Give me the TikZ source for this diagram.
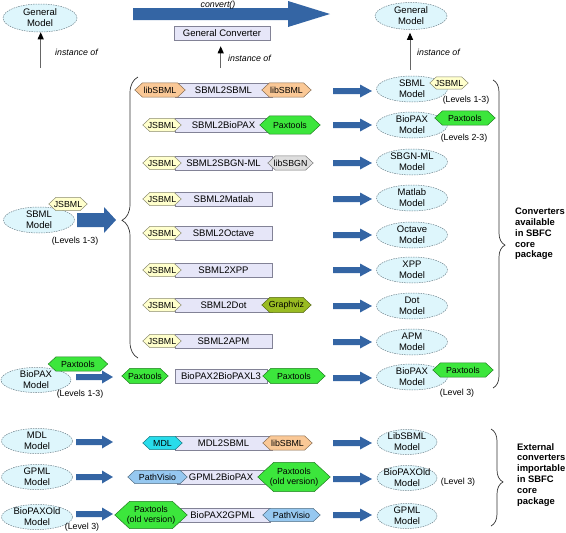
\documentclass[tikz,border=0pt]{standalone}
\usepackage{fontspec}
\setmainfont{Liberation Sans}
\usetikzlibrary{shapes.geometric,arrows.meta,decorations.pathreplacing,calc}
\definecolor{arrblue}{RGB}{52,101,164}
\definecolor{ellfill}{RGB}{222,246,252}
\definecolor{elldraw}{RGB}{110,130,140}
\definecolor{boxfill}{RGB}{230,230,248}
\definecolor{boxdraw}{RGB}{130,130,150}
\definecolor{jsbml}{RGB}{255,255,204}
\definecolor{libsbml}{RGB}{250,200,150}
\definecolor{paxgreen}{RGB}{60,230,60}
\definecolor{sbgngray}{RGB}{222,222,222}
\definecolor{graphviz}{RGB}{153,187,34}
\definecolor{mdlcyan}{RGB}{40,220,235}
\definecolor{pvblue}{RGB}{150,200,240}
\newcommand\fmid{\fontsize{9.5}{11}\selectfont}
\newcommand\fsml{\fontsize{8.8}{10}\selectfont}
\newcommand\fbld{\bfseries\fontsize{9.4}{10.8}\selectfont}
% hexagon library tag: name, cx, cy, width, height, fill, text
\newcommand\hexn[7]{%
  \node[hexbox, minimum width=#4pt, minimum height=#5pt] (#1) at (#2,#3) {};
  \filldraw[hexline, fill=#6, draw=#6!55!black] (#1.west) -- ([xshift={0.55*#5pt}]#1.north west) -- ([xshift={-0.55*#5pt}]#1.north east) -- (#1.east) -- ([xshift={-0.55*#5pt}]#1.south east) -- ([xshift={0.55*#5pt}]#1.south west) -- cycle;
  \node[hextext] (#1t) at (#1.center) {#7};}
% block arrow: start coord, end coord, shaft half height, head half height, head length
\newcommand\barrow[5]{%
  \fill[arrblue] ($(#1)+(0,-#3)$) -- ($(#2)+(-#5,-#3)$) -- ($(#2)+(-#5,-#4)$) -- (#2) -- ($(#2)+(-#5,#4)$) -- ($(#2)+(-#5,#3)$) -- ($(#1)+(0,#3)$) -- cycle;}
\begin{document}
\begin{tikzpicture}[x=1pt,y=-1pt,
  ell/.style={ellipse, draw=elldraw, dash pattern=on 1.5pt off 1pt, line width=0.5pt, fill=ellfill,
    minimum width=71pt, minimum height=26pt, inner xsep=-4pt, inner ysep=-3pt, align=center, font=\fmid},
  cbox/.style={rectangle, draw=boxdraw, fill=boxfill, line width=0.5pt, minimum height=14pt, inner sep=0pt, font=\fmid},
  hexbox/.style={rectangle, inner sep=0pt, draw=none},
  hexline/.style={line width=0.5pt},
  hextext/.style={font=\fsml, inner sep=0pt, align=center},
  uparr/.style={draw=black!60, line width=0.9pt, -{Triangle[length=7pt,width=6pt,color=black]}},
  inst/.style={font=\fsml\itshape, inner sep=0pt, anchor=west},
  lvl/.style={font=\fsml, inner sep=0pt},
  brc/.style={decorate, draw=black!80, line width=0.7pt},
  note/.style={font=\fbld, align=left, inner sep=0pt, anchor=north west}]
\useasboundingbox (0,0) rectangle (566,533);

% ---------- top ----------
\node[ell, minimum width=74pt, minimum height=28pt] (gm1) at (40,18) {General\\Model};
\node[ell, minimum width=72pt, minimum height=27pt] (gm2) at (411,16) {General\\Model};
\node[cbox, minimum width=96pt] (gc) at (222,33) {General Converter};
\coordinate (tas) at (133,14); \coordinate (tae) at (330,14);
\barrow{tas}{tae}{6}{13}{42}
\node[font=\fsml\itshape, inner sep=0pt] (cv) at (218,5) {convert()};
\coordinate (u1) at (40.7,68);
\draw[uparr] (u1) -- (u1 |- gm1.south);
\node[inst] (i1) at (55,52) {instance of};
\coordinate (u2) at (220.7,68);
\draw[uparr, shorten >=6pt] (u2) -- (u2 |- gc.south);
\node[inst] (i2) at (228,58) {instance of};
\coordinate (u3) at (410,70);
\draw[uparr, shorten >=3pt] (u3) -- (u3 |- gm2.south);
\node[inst] (i3) at (417,52) {instance of};

% ---------- left SBML model ----------
\node[ell] (sbl) at (39,220) {SBML\\Model};
\hexn{jsl}{68}{204}{38}{13}{jsbml}{JSBML}
\node[lvl] (lv1) at (75,241) {(Levels 1-3)};
\coordinate (bas) at (77,220); \coordinate (bae) at (116,220);
\barrow{bas}{bae}{7}{13}{12}
\coordinate (lb1) at (138,358); \coordinate (lb2) at (138,77);
\draw[brc, decoration={brace, amplitude=16pt, aspect=0.49}] (lb1) -- (lb2);

% ---------- converter boxes ----------
\node[cbox, minimum width=97pt] (c1) at (223.5,90) {SBML2SBML};
\node[cbox, minimum width=97pt] (c2) at (223.5,125) {SBML2BioPAX};
\node[cbox, minimum width=97pt] (c3) at (223.5,163) {SBML2SBGN-ML};
\node[cbox, minimum width=97pt] (c4) at (223.5,199) {SBML2Matlab};
\node[cbox, minimum width=97pt] (c5) at (223.5,233) {SBML2Octave};
\node[cbox, minimum width=97pt] (c6) at (223.5,270) {SBML2XPP};
\node[cbox, minimum width=97pt] (c7) at (223.5,305) {SBML2Dot};
\node[cbox, minimum width=97pt] (c8) at (223.5,341) {SBML2APM};
\node[cbox, minimum width=92pt] (c9) at (221,376) {BioPAX2BioPAXL3};

\hexn{h1a}{160}{90}{50}{14}{libsbml}{libSBML}
\hexn{h1b}{286.5}{90}{49}{14}{libsbml}{libSBML}
\hexn{h2a}{162}{125}{38}{13}{jsbml}{JSBML}
\hexn{h2b}{290}{125}{60}{18}{paxgreen}{Paxtools}
\hexn{h3a}{162}{163}{38}{13}{jsbml}{JSBML}
\hexn{h3b}{290.5}{163}{45}{14}{sbgngray}{libSBGN}
\hexn{h4a}{162}{199}{38}{13}{jsbml}{JSBML}
\hexn{h5a}{162}{233}{38}{13}{jsbml}{JSBML}
\hexn{h6a}{162}{270}{38}{13}{jsbml}{JSBML}
\hexn{h7a}{162}{305}{38}{13}{jsbml}{JSBML}
\hexn{h7b}{286.5}{305}{49}{15}{graphviz}{Graphviz}
\hexn{h8a}{162}{341}{38}{13}{jsbml}{JSBML}
\hexn{h9a}{145}{376}{46}{15}{paxgreen}{Paxtools}
\hexn{h9b}{294}{376}{62}{15}{paxgreen}{Paxtools}

% ---------- right models ----------
\node[ell] (m1) at (412,89) {SBML\\Model};
\node[ell] (m2) at (412,125) {BioPAX\\Model};
\node[ell] (m3) at (412,162) {SBGN-ML\\Model};
\node[ell] (m4) at (412,198) {Matlab\\Model};
\node[ell] (m5) at (412,235) {Octave\\Model};
\node[ell] (m6) at (412,270) {XPP\\Model};
\node[ell] (m7) at (412,306) {Dot\\Model};
\node[ell] (m8) at (412,342) {APM\\Model};
\node[ell] (m9) at (412,377) {BioPAX\\Model};
\hexn{rj1}{449}{83}{38}{12}{jsbml}{JSBML}
\hexn{rp2}{465}{118}{60}{14}{paxgreen}{Paxtools}
\hexn{rp9}{463}{370}{60}{14}{paxgreen}{Paxtools}
\node[lvl] (lv2) at (466,100) {(Levels 1-3)};
\node[lvl] (lv3) at (464,138) {(Levels 2-3)};
\node[lvl] (lv4) at (457,393) {(Level 3)};

\foreach \n/\yy in {1/91,2/125,3/163,4/199,5/235,6/270,7/306,8/342,9/378}{
  \coordinate (as\n) at (333,\yy); \coordinate (ae\n) at (372,\yy);
  \barrow{as\n}{ae\n}{3}{6.5}{12}
}

\coordinate (rb1) at (493,80); \coordinate (rb2) at (493,388);
\draw[brc, decoration={brace, amplitude=12pt, aspect=0.536}] (rb1) -- (rb2);
\node[note] (n1) at (515,208) {Converters\\available\\in SBFC\\core\\package};

% ---------- left BioPAX ----------
\node[ell, minimum width=70pt, minimum height=25pt] (bpl) at (36,380) {BioPAX\\Model};
\hexn{pxl}{78}{364}{59}{14}{paxgreen}{Paxtools}
\node[lvl] (lv5) at (80,394) {(Levels 1-3)};
\coordinate (bs1) at (76,377); \coordinate (be1) at (113,377);
\barrow{bs1}{be1}{3}{6.5}{11}

% ---------- bottom section ----------
\node[ell, minimum height=25pt] (mdl) at (37,441) {MDL\\Model};
\node[ell, minimum height=25pt] (gpl) at (37,477) {GPML\\Model};
\node[ell, minimum height=25pt] (bol) at (37,517) {BioPAXOld\\Model};
\node[lvl] (lv6) at (82,527) {(Level 3)};
\foreach \n/\yy in {2/442,3/477,4/514}{
  \coordinate (bs\n) at (76,\yy); \coordinate (be\n) at (113,\yy);
  \barrow{bs\n}{be\n}{3}{6.5}{11}
}
\node[cbox, minimum width=97pt] (c10) at (223.5,443) {MDL2SBML};
\node[cbox, minimum width=88pt] (c11) at (221,477) {GPML2BioPAX};
\node[cbox, minimum width=95pt] (c12) at (222.5,515) {BioPAX2GPML};
\hexn{h10a}{162.5}{443}{39}{13}{mdlcyan}{MDL}
\hexn{h10b}{287.5}{443}{49}{14}{libsbml}{libSBML}
\hexn{h11a}{157.5}{477}{59}{13}{pvblue}{PathVisio}
\hexn{h11b}{294}{477}{72}{29}{paxgreen}{Paxtools\\(old version)}
\hexn{h12a}{151}{515}{72}{27}{paxgreen}{Paxtools\\(old version)}
\hexn{h12b}{291.5}{515}{57}{13}{pvblue}{PathVisio}
\foreach \n/\yy in {10/443,11/479,12/515}{
  \coordinate (as\n) at (333,\yy); \coordinate (ae\n) at (372,\yy);
  \barrow{as\n}{ae\n}{3}{6.5}{12}
}
\node[ell, minimum width=60pt, minimum height=25pt] (m10) at (407,442) {LibSBML\\Model};
\node[ell, minimum width=60pt, minimum height=25pt] (m11) at (407,478) {BioPAXOld\\Model};
\node[ell, minimum width=60pt, minimum height=25pt] (m12) at (407,516) {GPML\\Model};
\node[lvl] (lv7) at (458,482) {(Level 3)};
\coordinate (bb1) at (491,429); \coordinate (bb2) at (491,526);
\draw[brc, decoration={brace, amplitude=12pt, aspect=0.546}] (bb1) -- (bb2);
\node[note] (n2) at (517,443) {External\\converters\\importable\\in SBFC\\core\\package};
\end{tikzpicture}
\end{document}
